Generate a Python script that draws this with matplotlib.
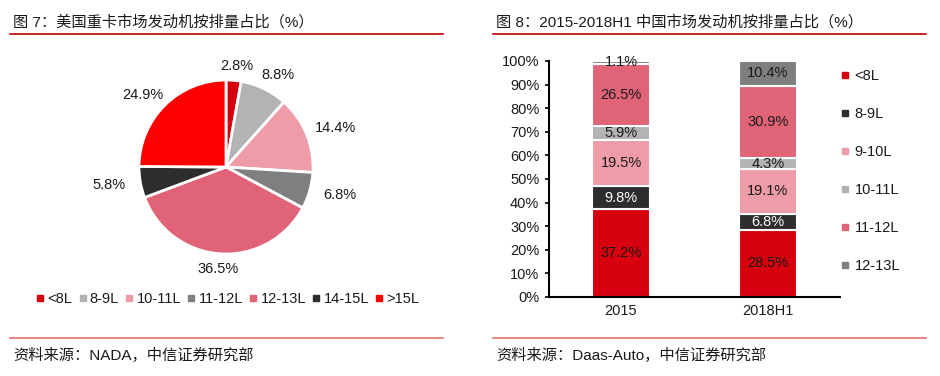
import numpy as np
import matplotlib
matplotlib.use('Agg')
import matplotlib.pyplot as plt
from matplotlib.lines import Line2D

plt.rcParams['font.family'] = ['Liberation Sans', 'Noto Sans CJK SC', 'DejaVu Sans']

# figure 7: pie
pie_labels = ['<8L', '8-9L', '10-11L', '11-12L', '12-13L', '14-15L', '>15L']
pie_values = [2.8, 8.8, 14.4, 6.8, 36.5, 5.8, 24.9]
pie_colors = ['#D7000F', '#B3B3B3', '#EE9CA7', '#7F7F7F', '#E06377', '#2D2D2D', '#FF0000']

# figure 8: stacked bars
years = ['2015', '2018H1']
bar_labels = ['<8L', '8-9L', '9-10L', '10-11L', '11-12L', '12-13L']
bar_values = {
    '<8L': [37.2, 28.5],
    '8-9L': [9.8, 6.8],
    '9-10L': [19.5, 19.1],
    '10-11L': [5.9, 4.3],
    '11-12L': [26.5, 30.9],
    '12-13L': [1.1, 10.4],
}
bar_colors = ['#D7000F', '#2D2D2D', '#EE9CA7', '#B3B3B3', '#E06377', '#7F7F7F']
yticks = np.arange(0, 101, 10)

W, H = 940, 376
fig = plt.figure(figsize=(W / 100, H / 100), dpi=100)

def px(x, y):
    return x / W, 1 - y / H

txt = '#1A1A1A'
# titles and rules
fig.text(*px(13, 22), '图 7：美国重卡市场发动机按排量占比（%）', fontsize=11, color=txt, va='center')
fig.text(*px(496, 22), '图 8：2015-2018H1 中国市场发动机按排量占比（%）', fontsize=11, color=txt, va='center')
fig.text(*px(13, 355), '资料来源：NADA，中信证券研究部', fontsize=11, color=txt, va='center')
fig.text(*px(496, 355), '资料来源：Daas-Auto，中信证券研究部', fontsize=11, color=txt, va='center')
for x0, x1 in [(10, 443), (493, 926)]:
    fig.add_artist(Line2D([x0 / W, x1 / W], [1 - 34 / H] * 2, color='#C00000', lw=1.2))
    fig.add_artist(Line2D([x0 / W, x1 / W], [1 - 338 / H] * 2, color='#E87070', lw=1.2))

# pie
cx, cy, r = 226, 167, 87
ax1 = fig.add_axes([(cx - r) / W, (H - cy - r) / H, 2 * r / W, 2 * r / H])
wedges, _ = ax1.pie(pie_values, colors=pie_colors, startangle=90, counterclock=False,
                    wedgeprops=dict(edgecolor='white', linewidth=2))
# labels outside, a bit further out sideways (like Excel's "outside end")
for w, v in zip(wedges, pie_values):
    ang = np.deg2rad((w.theta1 + w.theta2) / 2)
    ax1.text(1.36 * np.cos(ang), 1.17 * np.sin(ang), '%.1f%%' % v, ha='center', va='center',
             fontsize=10.5, color=txt)
ax1.set_xlim(-1, 1)
ax1.set_ylim(-1, 1)
handles = [Line2D([], [], marker='s', ls='', color=c, markersize=4) for c in pie_colors]
fig.legend(handles, pie_labels, loc='center', bbox_to_anchor=px(228, 299), ncol=7, frameon=False,
           fontsize=10.5, handlelength=0.5, handletextpad=0.25, columnspacing=0.45,
           labelcolor=txt)

# stacked bars
ax2 = fig.add_axes([549 / W, (H - 297) / H, (840 - 549) / W, (297 - 61) / H])
x = np.arange(len(years))
bottom = np.zeros(len(years))
for lab, col in zip(bar_labels, bar_colors):
    vals = np.array(bar_values[lab])
    ax2.bar(x, vals, bottom=bottom, width=0.39, color=col, edgecolor='white', linewidth=1.5, label=lab)
    for xi, b, v in zip(x, bottom, vals):
        tc = 'white' if col == '#2D2D2D' else txt
        ax2.text(xi, b + v / 2, '%.1f%%' % v, ha='center', va='center', fontsize=10.5, color=tc)
    bottom += vals
ax2.set_xlim(-0.49, 1.49)
ax2.set_ylim(0, 100)
ax2.set_yticks(yticks)
ax2.set_yticklabels(['%d%%' % v for v in yticks])
ax2.set_xticks(x)
ax2.set_xticklabels(years)
ax2.tick_params(axis='y', labelsize=10.5, labelcolor=txt, length=3, width=1.2, pad=4)
ax2.tick_params(axis='x', labelsize=10.5, labelcolor=txt, length=0, pad=5)
for s in ['top', 'right']:
    ax2.spines[s].set_visible(False)
for s in ['left', 'bottom']:
    ax2.spines[s].set_linewidth(1.5)
bh = [Line2D([], [], marker='s', ls='', color=c, markersize=5) for c in bar_colors]
fig.legend(bh, bar_labels, loc='upper left', bbox_to_anchor=px(827, 56), frameon=False,
           fontsize=10.5, handlelength=0.6, handletextpad=0.4, labelspacing=1.65,
           labelcolor=txt)

fig.savefig('out.png', dpi=100)
